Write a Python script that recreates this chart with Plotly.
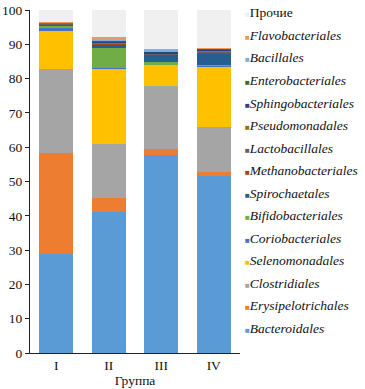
import plotly.graph_objects as go

groups = ["I", "II", "III", "IV"]

# stacked segment heights (%), bottom to top
series_names = ["Bacteroidales", "Erysipelotrichales", "Clostridiales", "Selenomonadales",
                "Coriobacteriales", "Bifidobacteriales", "Spirochaetales", "Methanobacteriales",
                "Lactobacillales", "Pseudomonadales", "Sphingobacteriales", "Enterobacteriales",
                "Bacillales", "Flavobacteriales", "Прочие"]
bacteroidales = [29.0, 41.0, 57.7, 51.5]
erysipelotrichales = [29.3, 4.1, 1.7, 1.4]
clostridiales = [24.5, 15.8, 18.4, 13.1]
selenomonadales = [11.2, 21.9, 6.2, 17.5]
coriobacteriales = [1.0, 0.3, 0.1, 0.3]
bifidobacteriales = [0.5, 5.8, 0.8, 0.2]
spirochaetales = [0.2, 0.9, 2.0, 3.3]
methanobacteriales = [0.1, 0.3, 0.1, 0.4]
lactobacillales = [0.3, 0.2, 0.2, 0.3]
pseudomonadales = [0.2, 0.1, 0.1, 0.1]
sphingobacteriales = [0.05, 0.5, 0.5, 0.5]
enterobacteriales = [0.05, 0.1, 0.1, 0.05]
bacillales = [0.05, 0.2, 0.7, 0.1]
flavobacteriales = [0.05, 1.0, 0.05, 0.05]
prochie = [3.5, 7.8, 11.4, 11.2]

values = [bacteroidales, erysipelotrichales, clostridiales, selenomonadales,
          coriobacteriales, bifidobacteriales, spirochaetales, methanobacteriales,
          lactobacillales, pseudomonadales, sphingobacteriales, enterobacteriales,
          bacillales, flavobacteriales, prochie]
colors = ["#5B9BD5", "#ED7D31", "#A5A5A5", "#FFC000", "#4472C4", "#70AD47", "#255E91",
          "#9E480E", "#636363", "#997300", "#264478", "#43682B", "#7CAFDD", "#F1975A", "#F0F0F0"]

FONT = "Liberation Serif"

fig = go.Figure()
for name, vals, col in zip(series_names, values, colors):
    fig.add_trace(go.Bar(x=groups, y=vals, name=name, marker_color=col,
                         marker_line_width=0, showlegend=False))

# legend drawn as text entries (top: Прочие, bottom: Bacteroidales)
PLOT_H = 343
n = len(series_names)
for k, (name, col) in enumerate(zip(series_names, colors)):
    row_from_top = n - 1 - k
    ypix = 13 + 22.5 * row_from_top          # pixel row centre from top of figure
    label = name if name == "Прочие" else f"<i>{name}</i>"
    fig.add_annotation(
        xref="paper", yref="paper", x=1.013, y=(353 - ypix) / PLOT_H,
        xanchor="left", yanchor="middle", showarrow=False,
        text=f"<span style='color:{col};font-size:8px'>■</span>{label}",
        font=dict(family=FONT, size=13.5, color="#111"),
    )

fig.update_layout(
    barmode="stack",
    bargap=0.36,
    width=365, height=389,
    margin=dict(l=30, r=125, t=10, b=36, autoexpand=False),
    plot_bgcolor="white", paper_bgcolor="white",
    font=dict(family=FONT, size=13, color="#111"),
    showlegend=False,
)
fig.update_yaxes(range=[0, 100], dtick=10, showline=True, linecolor="#222", linewidth=1,
                 ticks="outside", ticklen=4, tickcolor="#222", showgrid=False, zeroline=False,
                 tickfont=dict(size=13.5), automargin=False)
fig.update_xaxes(showline=True, linecolor="#222", linewidth=1, showgrid=False,
                 title=dict(text="Группа", font=dict(size=13.5), standoff=0),
                 tickfont=dict(size=13.5), automargin=False)

fig.write_html("out.html", config={"displayModeBar": False},
               post_script="document.body.style.margin='0';")
